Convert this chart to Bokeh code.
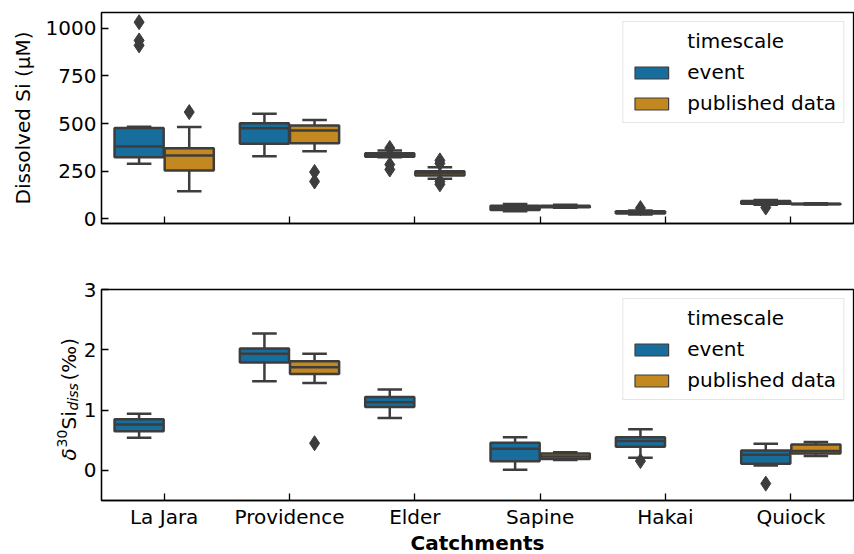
import math
import numpy as np
from bokeh.plotting import figure
from bokeh.models import (FactorRange, Range1d, ColumnDataSource, Legend, LegendItem,
                          FixedTicker)
from bokeh.transform import dodge
from bokeh.layouts import column, row
from bokeh.core.properties import value
from bokeh.embed import file_html
from bokeh.resources import INLINE

# ---------------- data ----------------
CATS = ["La Jara", "Providence", "Elder", "Sapine", "Hakai", "Quiock"]
HUES = ["event", "published data"]

# Dissolved Si (uM) box statistics: whisker low, q1, median, q3, whisker high
SI_EV_LO = [288, 328, 322, 38, 22, 72]
SI_EV_Q1 = [323, 393, 325, 45, 27, 78]
SI_EV_MED = [379, 475, 335, 55, 33, 85]
SI_EV_Q3 = [477, 502, 343, 68, 38, 92]
SI_EV_HI = [483, 551, 358, 77, 43, 98]
SI_EV_OUT_CAT = ["La Jara", "La Jara", "La Jara", "Elder", "Elder", "Elder", "Hakai", "Quiock"]
SI_EV_OUT_VAL = [911, 937, 1033, 371, 284, 258, 55, 58]

SI_PUB_LO = [144, 354, 209, 57, None, 74]
SI_PUB_Q1 = [253, 396, 226, 60, None, 75]
SI_PUB_MED = [332, 463, 240, 64, None, 77]
SI_PUB_Q3 = [370, 489, 249, 68, None, 78]
SI_PUB_HI = [481, 519, 270, 72, None, 80]
SI_PUB_OUT_CAT = ["La Jara", "Providence", "Providence", "Elder", "Elder", "Elder", "Elder"]
SI_PUB_OUT_VAL = [560, 245, 195, 306, 290, 195, 180]

# delta30Si (permil) box statistics
D_EV_LO = [0.54, 1.48, 0.87, 0.01, 0.21, 0.08]
D_EV_Q1 = [0.65, 1.79, 1.05, 0.15, 0.39, 0.11]
D_EV_MED = [0.76, 1.935, 1.13, 0.36, 0.485, 0.26]
D_EV_Q3 = [0.846, 2.02, 1.215, 0.46, 0.55, 0.33]
D_EV_HI = [0.94, 2.27, 1.34, 0.55, 0.68, 0.44]
D_EV_OUT_CAT = ["Hakai", "Quiock"]
D_EV_OUT_VAL = [0.155, -0.22]

D_PUB_LO = [None, 1.45, None, 0.17, None, 0.24]
D_PUB_Q1 = [None, 1.60, None, 0.19, None, 0.28]
D_PUB_MED = [None, 1.71, None, 0.23, None, 0.32]
D_PUB_Q3 = [None, 1.81, None, 0.28, None, 0.43]
D_PUB_HI = [None, 1.935, None, 0.30, None, 0.47]
D_PUB_OUT_CAT = ["Providence"]
D_PUB_OUT_VAL = [0.45]

SI_TICKS = [0, 250, 500, 750, 1000]
D_TICKS = [0, 1, 2, 3]
X_TITLE = "Catchments"

# ---------------- style / layout ----------------
FONT = "DejaVu Sans"
GRAY = "#3d3d3d"
COLORS = {"event": "#176d9c", "published data": "#c38820"}
OFFSETS = {"event": -0.2, "published data": 0.2}
BOX_W = 0.392
CAP_W = 0.196
LW = 2.5
FS = "20px"
W, H = 854, 554
FRAME_L, FRAME_R = 101, 853
P1_H = 250                 # top figure: frame from y=12 to y=223
P2_TOP, P2_FRAME_H, P2_BOT = 39, 211, 2
P2_H = P2_TOP + P2_FRAME_H + P2_BOT
LAB_W = 80                 # strip on the left holding the composed y label
STRIP_H = H - P1_H - P2_H  # strip below holding tick labels and the x title
P2_Y0 = P1_H               # page y of the bottom row's top edge
STRIP_Y0 = P1_H + P2_H     # page y of the lower strip's top edge


def add_boxes(p, lo, q1, med, q3, hi, hue):
    keep = [i for i in range(len(CATS)) if med[i] is not None]
    src = ColumnDataSource(dict(
        cat=[CATS[i] for i in keep], lo=[lo[i] for i in keep], q1=[q1[i] for i in keep],
        med=[med[i] for i in keep], q3=[q3[i] for i in keep], hi=[hi[i] for i in keep]))
    off = OFFSETS[hue]
    xc = dodge("cat", off, range=p.x_range)
    xl = dodge("cat", off - CAP_W / 2, range=p.x_range)
    xr = dodge("cat", off + CAP_W / 2, range=p.x_range)
    bl = dodge("cat", off - BOX_W / 2, range=p.x_range)
    br = dodge("cat", off + BOX_W / 2, range=p.x_range)
    kw = dict(source=src, line_color=GRAY, line_width=LW)
    p.segment(x0=xc, y0="lo", x1=xc, y1="q1", **kw)
    p.segment(x0=xc, y0="q3", x1=xc, y1="hi", **kw)
    p.segment(x0=xl, y0="lo", x1=xr, y1="lo", **kw)
    p.segment(x0=xl, y0="hi", x1=xr, y1="hi", **kw)
    p.vbar(x=xc, width=BOX_W, bottom="q1", top="q3", fill_color=COLORS[hue], **kw)
    p.segment(x0=bl, y0="med", x1=br, y1="med", **kw)


def add_outliers(p, cats, vals, hue):
    src = ColumnDataSource(dict(cat=cats, val=vals))
    p.scatter(x=dodge("cat", OFFSETS[hue], range=p.x_range), y="val", source=src,
              marker="diamond", size=15, fill_color=GRAY, line_color=GRAY, line_width=1)


def legend_proxy(p, fill, line):
    # one undefined (NaN) bar: draws nothing, but gives the legend its swatch
    src = ColumnDataSource(dict(x=[CATS[0]], top=np.array([np.nan]), bottom=np.array([np.nan])))
    return p.vbar(x="x", top="top", bottom="bottom", width=0.1, source=src,
                  fill_color=fill, line_color=line, line_width=1.2)


def add_legend(p):
    r_t = legend_proxy(p, None, None)
    r_e = legend_proxy(p, COLORS["event"], GRAY)
    r_p = legend_proxy(p, COLORS["published data"], GRAY)
    leg = Legend(items=[LegendItem(label="timescale", renderers=[r_t]),
                        LegendItem(label=HUES[0], renderers=[r_e]),
                        LegendItem(label=HUES[1], renderers=[r_p])],
                 location="top_right", margin=9, padding=7, spacing=7,
                 glyph_width=42, glyph_height=15, label_standoff=15, label_height=20,
                 label_text_font=FONT, label_text_font_size=FS, label_text_color="black",
                 border_line_color="#cccccc", border_line_width=1.2,
                 background_fill_color="white", background_fill_alpha=0.8)
    p.add_layout(leg)


def style_fig(p):
    p.xgrid.visible = False
    p.ygrid.visible = False
    p.outline_line_color = "black"
    p.outline_line_width = 1.3
    p.background_fill_color = "white"
    p.border_fill_color = "white"
    for ax in (p.xaxis[0], p.yaxis[0]):
        ax.axis_line_color = "black"
        ax.axis_line_width = 1.3
        ax.major_tick_in = 7
        ax.major_tick_out = 0
        ax.major_tick_line_color = "black"
        ax.major_tick_line_width = 1.3
        ax.minor_tick_line_color = None
        ax.major_label_text_font = FONT
        ax.major_label_text_font_size = FS
        ax.major_label_text_color = "black"
        ax.axis_label_text_font = FONT
        ax.axis_label_text_font_size = FS
        ax.axis_label_text_color = "black"
        ax.axis_label_text_font_style = "normal"
    # x tick labels are not drawn by the axis (top panel has none, bottom gets them in the strip)
    p.xaxis[0].major_label_text_color = None
    p.xaxis[0].major_label_text_font_size = "1px"
    p.xaxis[0].major_label_standoff = 0
    p.yaxis[0].major_label_standoff = 5


def plain_fig(width, height, x_range, y_range, bl=0, br=0):
    f = figure(width=width, height=height, x_range=x_range, y_range=y_range,
               output_backend="svg", toolbar_location=None, x_axis_type=None, y_axis_type=None,
               min_border_left=bl, min_border_right=br, min_border_top=0, min_border_bottom=0)
    f.grid.visible = False
    f.outline_line_color = None
    f.background_fill_color = "white"
    f.border_fill_color = "white"
    return f


# ---------------- top panel ----------------
p1 = figure(x_range=FactorRange(*CATS), y_range=Range1d(-26, 1084), width=W, height=P1_H,
            output_backend="svg", toolbar_location=None,
            min_border_left=FRAME_L, min_border_right=W - FRAME_R,
            min_border_top=12, min_border_bottom=27)
style_fig(p1)
p1.yaxis[0].ticker = FixedTicker(ticks=SI_TICKS)
p1.yaxis[0].axis_label = "Dissolved Si (μM)"
p1.yaxis[0].axis_label_standoff = 8
add_boxes(p1, SI_EV_LO, SI_EV_Q1, SI_EV_MED, SI_EV_Q3, SI_EV_HI, "event")
add_boxes(p1, SI_PUB_LO, SI_PUB_Q1, SI_PUB_MED, SI_PUB_Q3, SI_PUB_HI, "published data")
add_outliers(p1, SI_EV_OUT_CAT, SI_EV_OUT_VAL, "event")
add_outliers(p1, SI_PUB_OUT_CAT, SI_PUB_OUT_VAL, "published data")
add_legend(p1)

# ---------------- bottom panel ----------------
p2 = figure(x_range=FactorRange(*CATS), y_range=Range1d(-0.5, 3.0), width=W - LAB_W, height=P2_H,
            output_backend="svg", toolbar_location=None,
            min_border_left=FRAME_L - LAB_W, min_border_right=W - FRAME_R,
            min_border_top=P2_TOP, min_border_bottom=P2_BOT)
style_fig(p2)
p2.yaxis[0].ticker = FixedTicker(ticks=D_TICKS)
add_boxes(p2, D_EV_LO, D_EV_Q1, D_EV_MED, D_EV_Q3, D_EV_HI, "event")
add_boxes(p2, D_PUB_LO, D_PUB_Q1, D_PUB_MED, D_PUB_Q3, D_PUB_HI, "published data")
add_outliers(p2, D_EV_OUT_CAT, D_EV_OUT_VAL, "event")
add_outliers(p2, D_PUB_OUT_CAT, D_PUB_OUT_VAL, "published data")
add_legend(p2)

# composed y label  δ^30 Si_diss (‰), rotated; strip coordinates are page pixels
y_top = P2_Y0 + P2_TOP
y_bot = y_top + P2_FRAME_H
lab = plain_fig(LAB_W, P2_H, Range1d(0, LAB_W), Range1d(y_bot, y_top))
lab.min_border_top = P2_TOP
lab.min_border_bottom = P2_BOT
pieces = [
    ("δ", "20px", "italic", 68, 460),
    ("30", "14px", "normal", 61.5, 447),
    ("Si", "20px", "normal", 68, 429),
    ("diss", "14px", "italic", 72.5, 410),
    ("(‰)", "20px", "normal", 68, 380),
]
for txt, fs, style, xp, yp in pieces:
    lab.text(x=[xp], y=[yp], text=[txt], angle=math.pi / 2, text_align="left",
             text_baseline="alphabetic", text_font=value(FONT), text_font_size=value(fs),
             text_font_style=style, text_color="black")

# lower strip: category tick labels (through the shared categorical range) and x title
strip = plain_fig(W, STRIP_H, p2.x_range, Range1d(STRIP_Y0 + STRIP_H, STRIP_Y0),
                  bl=FRAME_L, br=W - FRAME_R)
tick_src = ColumnDataSource(dict(cat=CATS, y=[516.5] * len(CATS)))
strip.text(x="cat", y="y", text="cat", source=tick_src, text_align="center",
           text_baseline="middle", text_font=value(FONT), text_font_size=value(FS),
           text_color="black")
title_src = ColumnDataSource(dict(cat=[CATS[2]], y=[542], t=[X_TITLE]))
strip.text(x=dodge("cat", 0.5, range=p2.x_range), y="y", text="t", source=title_src,
           text_align="center", text_baseline="middle", text_font=value(FONT),
           text_font_size=value(FS), text_font_style="bold", text_color="black")

layout = column(p1, row(lab, p2, spacing=0), strip, spacing=0)
open("out.html", "w").write(file_html(layout, INLINE))
